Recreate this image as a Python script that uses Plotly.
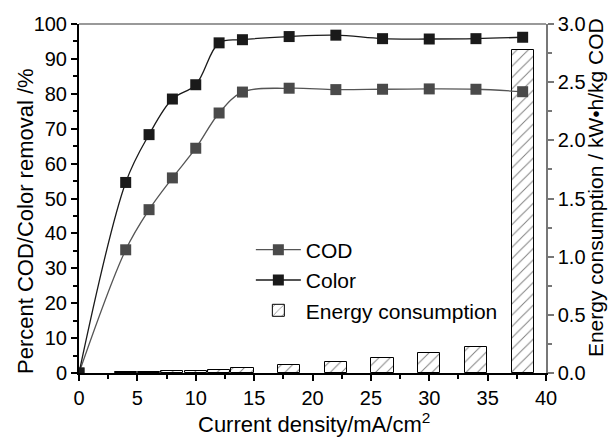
import plotly.graph_objects as go

# Data
x_vals = [0, 4, 6, 8, 10, 12, 14, 18, 22, 26, 30, 34, 38]
cod = [0, 35.3, 46.8, 55.9, 64.4, 74.5, 80.5, 81.6, 81.2, 81.3, 81.4, 81.3, 80.6]
color = [0, 54.6, 68.3, 78.5, 82.6, 94.6, 95.5, 96.4, 96.8, 95.8, 95.7, 95.8, 96.2]
bar_x = [4, 6, 8, 10, 12, 14, 18, 22, 26, 30, 34, 38]
energy = [0.01, 0.01, 0.02, 0.02, 0.03, 0.045, 0.068, 0.097, 0.128, 0.168, 0.22, 2.78]

x_ticks = [0, 5, 10, 15, 20, 25, 30, 35, 40]
left_ticks = list(range(0, 101, 10))
right_ticks = [0, 0.5, 1.0, 1.5, 2.0, 2.5, 3.0]

FONT = "Liberation Sans, Arial, sans-serif"

fig = go.Figure()
fig.add_trace(go.Scatter(
    x=x_vals, y=cod, name="COD", yaxis="y2", mode="lines+markers",
    line=dict(color="#555555", width=1.3, shape="spline"),
    marker=dict(symbol="square", size=11, color="#4a4a4a"),
))
fig.add_trace(go.Scatter(
    x=x_vals, y=color, name="Color", yaxis="y2", mode="lines+markers",
    line=dict(color="#1a1a1a", width=1.3, shape="spline"),
    marker=dict(symbol="square", size=11, color="#1a1a1a"),
))
fig.add_trace(go.Bar(
    x=bar_x, y=energy, width=1.9, name="Energy consumption", yaxis="y",
    marker=dict(color="white", line=dict(color="black", width=1),
                pattern=dict(shape="/", fgcolor="black", bgcolor="white", size=8, solidity=0.12)),
))

fig.update_layout(
    width=608, height=431,
    margin=dict(l=71, r=70, t=16, b=66),
    paper_bgcolor="white", plot_bgcolor="white",
    font=dict(family=FONT, size=20, color="black"),
    showlegend=True,
    legend=dict(x=0.368, y=0.411, xanchor="left", yanchor="top",
                traceorder="normal", font=dict(size=21), bgcolor="rgba(0,0,0,0)",
                itemwidth=45, tracegroupgap=0),
    bargap=0,
    xaxis=dict(range=[0, 40], tickvals=x_ticks,
               ticks="outside", ticklen=6, tickwidth=1.5, tickcolor="black",
               minor=dict(tickvals=[2.5, 7.5, 12.5, 17.5, 22.5, 27.5, 32.5, 37.5], ticks="outside", ticklen=4, tickcolor="black"),
               showline=True, linecolor="black", linewidth=2, showgrid=False, zeroline=False,
               automargin=False),
    yaxis=dict(range=[0, 3.0], side="right", tickvals=right_ticks,
               tickformat=".1f", ticks="outside", ticklen=6, tickwidth=1.5, tickcolor="#777777",
               minor=dict(tickvals=[0.25, 0.75, 1.25, 1.75, 2.25, 2.75], ticks="outside", ticklen=4, tickcolor="#777777"),
               showline=True, linecolor="#777777", linewidth=1.5, showgrid=False, zeroline=False,
               automargin=False),
    yaxis2=dict(range=[0, 100], side="left", overlaying="y", tickvals=left_ticks,
                ticks="outside", ticklen=6, tickwidth=1.5, tickcolor="black",
                minor=dict(tickvals=list(range(5, 100, 10)), ticks="outside", ticklen=4, tickcolor="black"),
                showline=True, linecolor="black", linewidth=2, showgrid=False, zeroline=False,
                automargin=False),
)
fig.add_shape(type="line", xref="paper", yref="paper", x0=0, x1=1, y0=1, y1=1,
              line=dict(color="#777777", width=1.5))

# Axis titles
fig.add_annotation(text="Current density/mA/cm<sup>2</sup>", xref="paper", yref="paper",
                   x=0.503, y=-0.143, xanchor="center", yanchor="middle", showarrow=False,
                   font=dict(size=22))
fig.add_annotation(text="Percent COD/Color removal /%", xref="paper", yref="paper",
                   x=-0.1156, y=0.4355, xanchor="center", yanchor="middle", showarrow=False,
                   textangle=-90, font=dict(size=22))
fig.add_annotation(text="Energy consumption / kW•h/kg COD", xref="paper", yref="paper",
                   x=1.105, y=0.53, xanchor="center", yanchor="middle", showarrow=False,
                   textangle=-90, font=dict(size=21))

fig.write_html("out.html")
